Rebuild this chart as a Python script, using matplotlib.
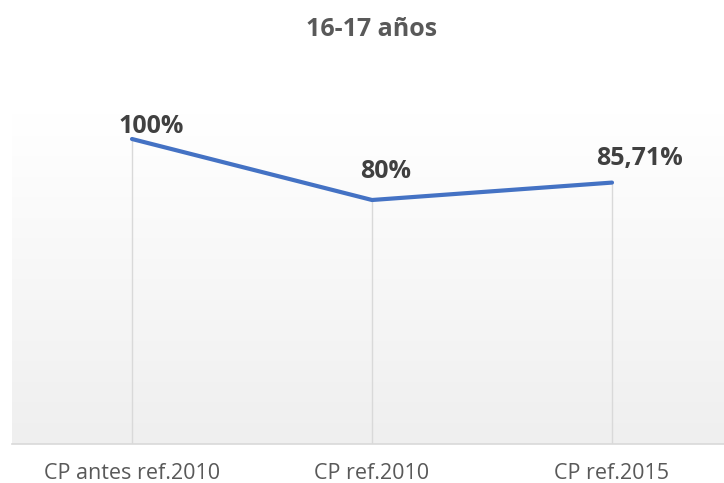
import matplotlib
matplotlib.use("Agg")
import matplotlib.pyplot as plt
import numpy as np

categories = ["CP antes ref.2010", "CP ref.2010", "CP ref.2015"]
values = [100, 80, 85.71]
value_labels = ["100%", "80%", "85,71%"]
title = "16-17 años"

# label offsets in pixels (styling)
label_offsets = [(-13, 0), (-12, 16), (-16, 12)]

plt.rcParams['font.family'] = ['Open Sans', 'DejaVu Sans']

W, H = 724, 483
fig = plt.figure(figsize=(W / 100, H / 100), dpi=100)
fig.patch.set_facecolor('white')
ax = fig.add_axes([12 / W, 39 / H, 720 / W, 366 / H])

# gradient background
grad = np.linspace(0, 1, 256).reshape(-1, 1)
c_top = np.array([1.0, 1.0, 1.0])
c_bot = np.array([0xef, 0xef, 0xef]) / 255
img = c_top + (c_bot - c_top) * np.clip((grad - 0.1) / 0.9, 0, 1)[..., None]
img = img.reshape(256, 1, 3)
ax.imshow(img, extent=[0, 1, 0, 1], transform=ax.transAxes, aspect='auto', zorder=0, interpolation='bilinear', origin='upper')
ax.set_xlim(-0.5, 2.5)
ax.set_ylim(0, 120)

x = np.arange(len(categories))
ax.vlines(x, 0, values, colors='#d9d9d9', linewidth=1.0, zorder=1)
ax.plot(x, values, color='#4472C4', linewidth=3.0, solid_capstyle='round', solid_joinstyle='round', zorder=3)

for xi, v, lab, off in zip(x, values, value_labels, label_offsets):
    ax.annotate(lab, (xi, v), xytext=(off[0] * 0.72, off[1] * 0.72), textcoords='offset points',
                ha='left', va='bottom', fontsize=18, fontweight='bold', color='#404040', zorder=4)

for s in ['top', 'right', 'left']:
    ax.spines[s].set_visible(False)
ax.spines['bottom'].set_color('#d9d9d9')
ax.spines['bottom'].set_linewidth(1.2)
ax.set_yticks([])
ax.set_xticks(x)
ax.set_xticklabels(categories, fontsize=15.5, color='#595959')
ax.tick_params(axis='x', length=0, pad=14)

fig.text(372 / W, 1 - 30 / H, title, ha='center', va='center', fontsize=18, fontweight='bold', color='#595959')

fig.savefig('out.png', dpi=100, facecolor='white')
